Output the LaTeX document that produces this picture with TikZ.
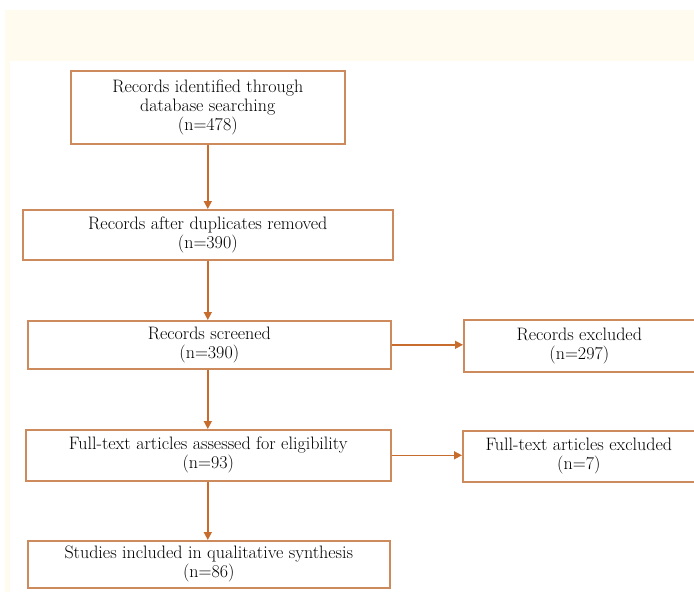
\documentclass[tikz,border=0pt]{standalone}
\usetikzlibrary{arrows.meta}
\definecolor{cream}{RGB}{255,251,238}
\definecolor{boxline}{RGB}{205,138,92}
\definecolor{arrline}{RGB}{200,108,45}
\begin{document}
\begin{tikzpicture}[x=1pt,y=-1pt,
  box/.style={draw=boxline, line width=1.6pt, align=center, inner sep=0pt,
    font=\fontsize{18}{19}\selectfont, anchor=north west},
  arr/.style={draw=arrline, line width=1.5pt, -{Triangle[length=8pt,width=8pt]}}]
\useasboundingbox (0,0) rectangle (694,592);
\clip (0,0) rectangle (694,592);
\fill[cream] (5,10) rectangle (694,61);
\fill[cream] (5,61) rectangle (10,592);
\node[box, minimum width=274pt, minimum height=73pt] (b1) at (70,70)
  {Records identified through\\database searching\\(n=478)};
\node[box, minimum width=370pt, minimum height=50pt] (b2) at (22,209)
  {Records after duplicates removed\\(n=390)};
\node[box, minimum width=363pt, minimum height=48pt] (b3) at (27,320)
  {Records screened\\(n=390)};
\node[box, minimum width=365pt, minimum height=51pt] (b4) at (25,429)
  {Full-text articles assessed for eligibility\\(n=93)};
\node[box, minimum width=362pt, minimum height=47pt] (b5) at (27,540)
  {Studies included in qualitative synthesis\\(n=86)};
\node[box, minimum width=231pt, minimum height=52pt] (e1) at (463,319)
  {Records excluded\\(n=297)};
\node[box, minimum width=232pt, minimum height=51pt] (e2) at (462,430)
  {Full-text articles excluded\\(n=7)};
\draw[arr] (b2.north |- b1.south) -- (b2.north);
\draw[arr] (b2.south) -- (b2.south |- b3.north);
\draw[arr] (b2.south |- b3.south) -- (b2.south |- b4.north);
\draw[arr] (b2.south |- b4.south) -- (b2.south |- b5.north);
\draw[arr] (b3.east) -- (b3.east -| e1.west);
\draw[arr] (b4.east) -- (b4.east -| e2.west);
\end{tikzpicture}
\end{document}
